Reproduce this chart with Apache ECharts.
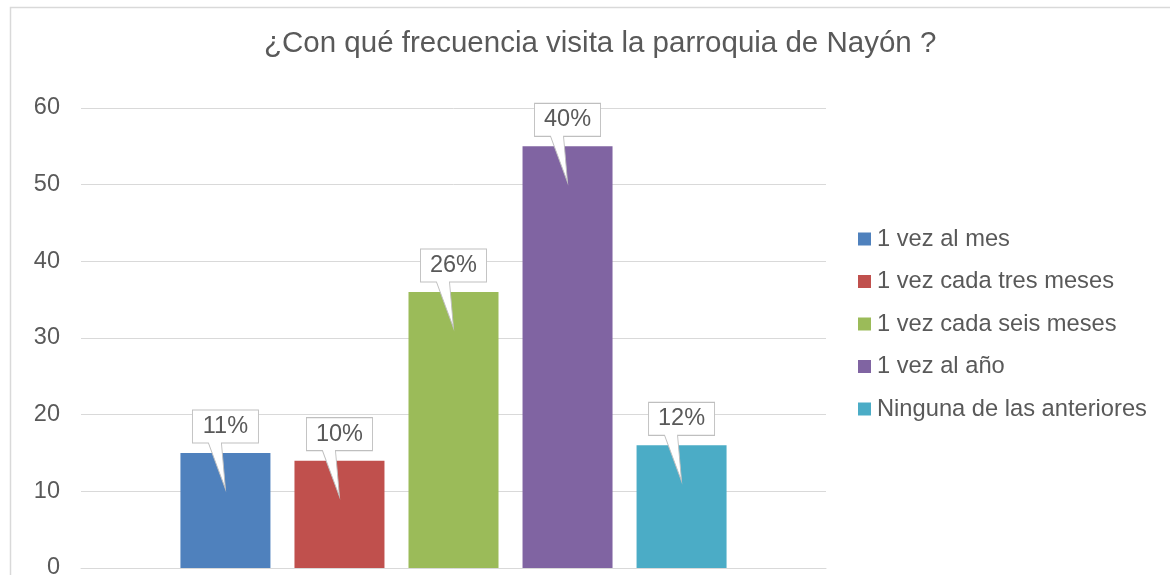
<!DOCTYPE html>
<html>
<head>
<meta charset="utf-8">
<script src="https://cdn.jsdelivr.net/npm/echarts@6/dist/echarts.min.js"></script>
<style>
html,body{margin:0;padding:0;background:#fff;}
#chart{width:1170px;height:575px;}
</style>
</head>
<body>
<div id="chart"></div>
<script>
const titleText = '¿Con qué frecuencia visita la parroquia de Nayón ?';
const category = ['Frecuencia'];
const seriesNames = ['1 vez al mes', '1 vez cada tres meses', '1 vez cada seis meses', '1 vez al año', 'Ninguna de las anteriores'];
const seriesValues = [15, 14, 36, 55, 16];
const percentLabels = ['11%', '10%', '26%', '40%', '12%'];
const seriesColors = ['#4f81bd', '#c0504d', '#9bbb59', '#8064a2', '#4bacc6'];
const yTicks = { min: 0, max: 60, interval: 10 };

const textColor = '#595959';
const fontFamily = 'Liberation Sans, Arial, sans-serif';
const calloutPath = 'path://M0,0 H66 V33 H29 L33,79 L16,33 H0 Z';

const chart = echarts.init(document.getElementById('chart'), null, { renderer: 'canvas' });

const series = seriesNames.map((name, i) => ({
  name: name,
  type: 'bar',
  data: [seriesValues[i]],
  barWidth: 90,
  barGap: '26.7%',
  itemStyle: { color: seriesColors[i] },
  emphasis: { disabled: true },
  markPoint: {
    symbol: calloutPath,
    symbolSize: [66, 79],
    symbolOffset: [0, -3.5],
    silent: true,
    itemStyle: { color: '#ffffff', borderColor: '#bfbfbf', borderWidth: 1 },
    label: {
      show: true,
      position: 'inside',
      offset: [0, -23],
      formatter: percentLabels[i],
      color: textColor,
      fontSize: 23.5,
      fontFamily: fontFamily
    },
    data: [{ coord: [0, seriesValues[i]] }]
  }
}));

chart.setOption({
  animation: false,
  backgroundColor: '#ffffff',
  title: {
    text: titleText,
    left: 259,
    top: 24,
    textStyle: { color: textColor, fontSize: 29.5, fontWeight: 'normal', fontFamily: fontFamily }
  },
  legend: {
    orient: 'vertical',
    left: 858,
    top: 227,
    padding: 0,
    itemWidth: 13,
    itemHeight: 13,
    itemGap: 18.5,
    icon: 'rect',
    selectedMode: false,
    data: seriesNames,
    textStyle: { color: textColor, fontSize: 23.7, fontFamily: fontFamily, lineHeight: 24, padding: [0, 0, 0, 1] }
  },
  grid: { left: 81, right: 344, top: 108, bottom: 7, containLabel: false, outerBoundsMode: 'none' },
  xAxis: {
    type: 'category',
    data: category,
    axisLine: { show: true, lineStyle: { color: '#d9d9d9', width: 1 } },
    axisTick: { show: false },
    axisLabel: { show: false }
  },
  yAxis: {
    type: 'value',
    min: yTicks.min,
    max: yTicks.max,
    interval: yTicks.interval,
    axisLine: { show: false },
    axisTick: { show: false },
    splitLine: { lineStyle: { color: '#d9d9d9', width: 1 } },
    axisLabel: { color: textColor, fontSize: 23.5, fontFamily: fontFamily, margin: 21 }
  },
  graphic: [{
    type: 'rect',
    left: 8, top: 5,
    shape: { width: 1200, height: 600 },
    style: { fill: 'none', stroke: '#d9d9d9', lineWidth: 1.5 },
    silent: true,
    z: -10
  }],
  series: series
});
</script>
</body>
</html>
